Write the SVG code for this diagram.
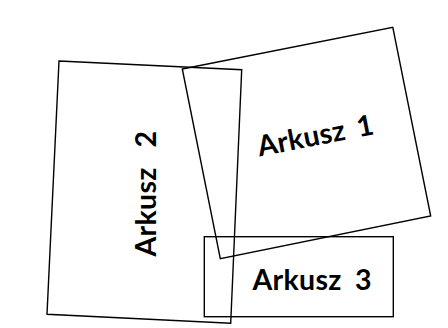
<svg xmlns="http://www.w3.org/2000/svg" width="448" height="328" viewBox="0 0 448 328">
<style>
.sheet{fill:none;stroke:#000;stroke-width:1.4}
.lbl{font-family:Lato,"Liberation Sans",sans-serif;font-weight:bold;font-size:28.5px;fill:#000;letter-spacing:0.3px}
</style>
<rect width="448" height="328" fill="#fff"/>
<g id="arkusz2">
<polygon class="sheet" points="59,61 241.7,69.7 230.7,323.3 47,314.3"/>
<text class="lbl" transform="translate(155.5,256.5) rotate(-90)" x="0" y="0">Arkusz<tspan x="109">2</tspan></text>
</g>
<g id="arkusz1">
<polygon class="sheet" points="182.3,69 392.8,27.3 430.7,216 220.3,258.7"/>
<text class="lbl" transform="translate(259.5,156.5) rotate(-11)" x="0" y="0">Arkusz<tspan x="101">1</tspan></text>
</g>
<g id="arkusz3">
<rect class="sheet" x="204.3" y="236.7" width="189" height="80"/>
<text class="lbl" x="252.5" y="290">Arkusz<tspan x="355">3</tspan></text>
</g>
<g id="connectors"/>
</svg>
